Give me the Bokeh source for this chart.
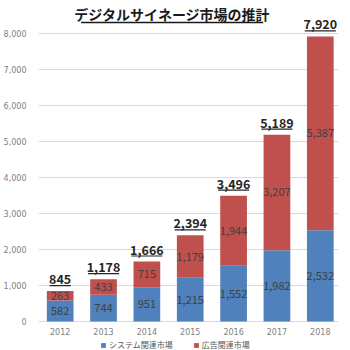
from bokeh.plotting import figure
from bokeh.models import Range1d, FixedTicker, NumeralTickFormatter, ColumnDataSource, Legend, LegendItem
from bokeh.core.properties import value
from bokeh.embed import file_html
from bokeh.resources import INLINE

years = ["2012", "2013", "2014", "2015", "2016", "2017", "2018"]
system_market = [582, 744, 951, 1215, 1552, 1982, 2532]
ad_market = [263, 433, 715, 1179, 1944, 3207, 5387]
totals = [845, 1178, 1666, 2394, 3496, 5189, 7920]
series_names = ["システム関連市場", "広告関連市場"]
title_text = "デジタルサイネージ市場の推計"
y_ticks = [0, 1000, 2000, 3000, 4000, 5000, 6000, 7000, 8000]

BLUE = "#4F81BD"
RED = "#C0504D"
FONT = "Noto Sans CJK JP"

FRAME_H = 350
FRAME_W = 303
ZERO_PX = 321                      # canvas y of value 0
px_y = 288 / 8000                  # px per data unit (y)
Y_START = -(FRAME_H - ZERO_PX) / px_y
Y_END = ZERO_PX / px_y
X_START, X_END = -0.5, 6.42
px_x = FRAME_W / (X_END - X_START)  # px per category (x)

xs = list(range(len(years)))
src = ColumnDataSource(dict(
    x=xs,
    zero=[0] * len(years),
    year=years,
    sys=system_market,
    ad=ad_market,
    total=totals,
    sys_mid=[s / 2 for s in system_market],
    ad_mid=[s + a / 2 for s, a in zip(system_market, ad_market)],
    top=[s + a for s, a in zip(system_market, ad_market)],
    sys_lbl=[f"{v:,}" for v in system_market],
    ad_lbl=[f"{v:,}" for v in ad_market],
    tot_lbl=[f"{v:,}" for v in totals],
))

p = figure(width=350, height=350, output_backend="svg", toolbar_location=None,
           x_range=Range1d(X_START, X_END), y_range=Range1d(Y_START, Y_END),
           min_border_left=35, min_border_right=12, min_border_top=0, min_border_bottom=0)
p.outline_line_color = None
p.background_fill_color = "white"
p.border_fill_color = "white"

r = p.vbar_stack(["sys", "ad"], x="x", width=0.616, color=[BLUE, RED], source=src, line_color=None)

# segment labels
p.text(x="x", y="sys_mid", text="sys_lbl", source=src, text_align="center", text_baseline="middle",
       text_font=value(FONT), text_font_size="11px", text_color="#404040")
p.text(x="x", y="ad_mid", text="ad_lbl", source=src, text_align="center", text_baseline="middle",
       text_font=value(FONT), text_font_size="11px", text_color="#404040")

# total labels with underline
p.text(x="x", y="top", text="tot_lbl", source=src, text_align="center", text_baseline="bottom",
       y_offset=-7, text_font=value(FONT), text_font_size="12.5px", text_font_style="bold",
       text_color="#262626")
def lbl_w(s):
    return sum(3.2 if c == "," else 6.8 for c in s) + 1
ul = ColumnDataSource(dict(
    x0=[x - lbl_w(t) / 2 / px_x for x, t in zip(xs, src.data["tot_lbl"])],
    x1=[x + lbl_w(t) / 2 / px_x for x, t in zip(xs, src.data["tot_lbl"])],
    y=[t + 5.5 / px_y for t in src.data["top"]],
))
p.segment(x0="x0", y0="y", x1="x1", y1="y", source=ul, line_color="#262626", line_width=1.2)

# year labels (category axis)
p.text(x="x", y="zero", text="year", source=src, text_align="center", text_baseline="middle",
       y_offset=10, text_font=value("DejaVu Sans"), text_font_size="8px", text_color="#7f7f7f")

# title with underline
tx = (170 - 35) / px_x + X_START
ty = (ZERO_PX - 13) / px_y
p.text(x=[tx], y=[ty], text=[title_text], text_align="center", text_baseline="middle",
       text_font=value(FONT), text_font_size="14px", text_font_style="bold", text_color="#1a1a1a")
p.segment(x0=[tx - 92 / px_x], y0=[ty - 9 / px_y], x1=[tx + 92 / px_x], y1=[ty - 9 / px_y],
          line_color="#1a1a1a", line_width=1.3)

# axes
p.xaxis.visible = False
p.yaxis.ticker = FixedTicker(ticks=y_ticks)
p.yaxis.formatter = NumeralTickFormatter(format="0,0")
p.yaxis.axis_line_color = None
p.yaxis.major_tick_line_color = None
p.yaxis.minor_tick_line_color = None
p.yaxis.major_label_text_font_size = "8px"
p.yaxis.major_label_text_color = "#7f7f7f"
p.yaxis.major_label_text_font = "DejaVu Sans"
p.yaxis.major_label_standoff = 6
p.xgrid.grid_line_color = None
p.ygrid.grid_line_color = "#d9d9d9"
p.ygrid.grid_line_width = 1

legend = Legend(items=[LegendItem(label=series_names[0], renderers=[r[0]]),
                       LegendItem(label=series_names[1], renderers=[r[1]])],
                location=(62, 0), orientation="horizontal", padding=1, margin=0,
                spacing=20, glyph_width=6, glyph_height=6, label_height=10,
                label_standoff=3, label_text_font_size="8px", label_text_color="#595959",
                label_text_font=FONT, border_line_color=None, background_fill_alpha=0)
p.add_layout(legend, "center")

open("out.html", "w").write(file_html(p, INLINE))
